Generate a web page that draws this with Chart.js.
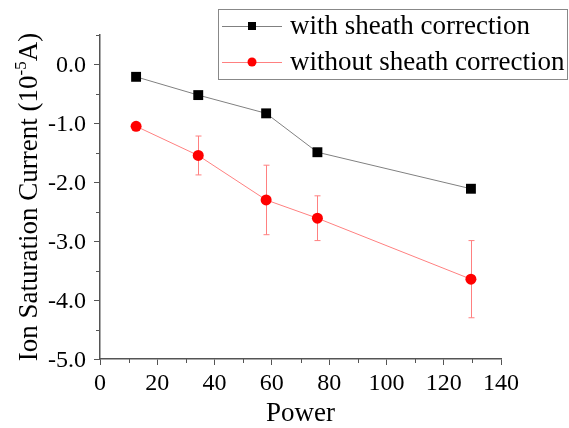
<!DOCTYPE html>
<html>
<head>
<meta charset="utf-8">
<script src="https://cdn.jsdelivr.net/npm/chart.js@4/dist/chart.umd.min.js"></script>
<style>
  body { margin: 0; background: #fff; }
  canvas { display: block; }
</style>
</head>
<body>
<canvas id="myChart" width="569" height="428"></canvas>
<script>
// values
var power = [12.6, 34.3, 58.0, 75.9, 129.5];
var withSheath = [-0.21, -0.52, -0.83, -1.49, -2.11];
var withoutSheath = [-1.05, -1.545, -2.30, -2.61, -3.645];
var withoutSheathErr = [0, 0.33, 0.59, 0.38, 0.655];

var seriesLabels = ['with sheath correction', 'without sheath correction'];
var xTitle = 'Power';
var yTitle = ['Ion Saturation Current (10', '-5', 'A)'];

var serif = '"Liberation Serif", "Times New Roman", serif';
var axisColor = '#555555';

Chart.defaults.font.family = serif;
Chart.defaults.color = '#000';

function points(xs, ys) {
    return xs.map(function (x, i) { return { x: x, y: ys[i] }; });
}

// error bars for the red series (drawn under the markers)
var errorBars = {
    id: 'errorBars',
    beforeDatasetsDraw: function (chart) {
        var ctx = chart.ctx;
        var xs = chart.scales.x, ys = chart.scales.y;
        ctx.save();
        ctx.strokeStyle = '#ff8080';
        ctx.lineWidth = 1;
        withoutSheath.forEach(function (v, i) {
            var e = withoutSheathErr[i];
            if (!e) return;
            var px = Math.round(xs.getPixelForValue(power[i])) + 0.5;
            var top = ys.getPixelForValue(v + e);
            var bot = ys.getPixelForValue(v - e);
            ctx.beginPath();
            ctx.moveTo(px, top); ctx.lineTo(px, bot);
            ctx.moveTo(px - 3, top); ctx.lineTo(px + 3, top);
            ctx.moveTo(px - 3, bot); ctx.lineTo(px + 3, bot);
            ctx.stroke();
        });
        ctx.restore();
    }
};

// minor ticks halfway between the major ones
var minorTicks = {
    id: 'minorTicks',
    afterDraw: function (chart) {
        var ctx = chart.ctx;
        var xs = chart.scales.x, ys = chart.scales.y;
        var area = chart.chartArea;
        ctx.save();
        ctx.strokeStyle = axisColor;
        ctx.lineWidth = 1;
        ctx.beginPath();
        for (var v = xs.min + 10; v < xs.max; v += 20) {
            var px = Math.round(xs.getPixelForValue(v)) + 0.5;
            ctx.moveTo(px, area.bottom); ctx.lineTo(px, area.bottom + 4);
        }
        for (var w = ys.min + 0.5; w <= ys.max + 0.001; w += 1) {
            var py = Math.round(ys.getPixelForValue(w)) + 0.5;
            ctx.moveTo(area.left, py); ctx.lineTo(area.left - 4, py);
        }
        ctx.stroke();
        ctx.restore();
    }
};

// tick labels drawn by hand so the serif face is used
var tickLabels = {
    id: 'tickLabels',
    afterDraw: function (chart) {
        var ctx = chart.ctx;
        var xs = chart.scales.x, ys = chart.scales.y;
        var area = chart.chartArea;
        ctx.save();
        ctx.fillStyle = '#000';
        ctx.font = '24px ' + serif;
        ctx.textBaseline = 'alphabetic';
        ctx.textAlign = 'center';
        xs.ticks.forEach(function (t) {
            ctx.fillText(String(t.value), xs.getPixelForValue(t.value), area.bottom + 31);
        });
        ctx.textAlign = 'right';
        ys.ticks.forEach(function (t) {
            ctx.fillText(t.value.toFixed(1), area.left - 14, ys.getPixelForValue(t.value) + 8);
        });
        ctx.restore();
    }
};

// rotated y title with a real superscript
var yAxisTitle = {
    id: 'yAxisTitle',
    afterDraw: function (chart) {
        var ctx = chart.ctx;
        var area = chart.chartArea;
        var big = '27px ' + serif, small = '17px ' + serif;
        ctx.save();
        ctx.fillStyle = '#000';
        ctx.textBaseline = 'alphabetic';
        ctx.textAlign = 'left';
        ctx.font = big;
        var w1 = ctx.measureText(yTitle[0]).width;
        var w3 = ctx.measureText(yTitle[2]).width;
        ctx.font = small;
        var w2 = ctx.measureText(yTitle[1]).width;
        var total = w1 + w2 + w3;
        ctx.translate(37, (area.top + area.bottom) / 2);
        ctx.rotate(-Math.PI / 2);
        var x0 = -total / 2;
        ctx.font = big;
        ctx.fillText(yTitle[0], x0, 0);
        ctx.font = small;
        ctx.fillText(yTitle[1], x0 + w1, -11);
        ctx.font = big;
        ctx.fillText(yTitle[2], x0 + w1 + w2, 0);
        ctx.restore();
    }
};

// x title
var xAxisTitle = {
    id: 'xAxisTitle',
    afterDraw: function (chart) {
        var ctx = chart.ctx;
        var area = chart.chartArea;
        ctx.save();
        ctx.fillStyle = '#000';
        ctx.font = '27px ' + serif;
        ctx.textAlign = 'center';
        ctx.textBaseline = 'alphabetic';
        ctx.fillText(xTitle, (area.left + area.right) / 2, area.bottom + 62);
        ctx.restore();
    }
};

// boxed legend with line + marker samples
var boxLegend = {
    id: 'boxLegend',
    afterDraw: function (chart) {
        var ctx = chart.ctx;
        ctx.save();
        ctx.strokeStyle = '#888888';
        ctx.lineWidth = 1;
        ctx.strokeRect(218.5, 9.5, 349, 70);
        var rows = [26, 62];
        chart.data.datasets.forEach(function (ds, i) {
            var y = rows[i];
            ctx.strokeStyle = ds.borderColor;
            ctx.lineWidth = 1;
            ctx.beginPath();
            ctx.moveTo(222, y + 0.5); ctx.lineTo(282, y + 0.5);
            ctx.stroke();
            ctx.fillStyle = ds.pointBackgroundColor;
            if (ds.pointStyle === 'rect') {
                ctx.fillRect(248, y - 4, 8, 8);
            } else {
                ctx.beginPath();
                ctx.arc(252, y, 4.5, 0, Math.PI * 2);
                ctx.fill();
            }
            ctx.fillStyle = '#000';
            ctx.font = '27px ' + serif;
            ctx.textBaseline = 'middle';
            ctx.fillText(ds.label, 290, y + 1);
        });
        ctx.restore();
    }
};

var ctx = document.getElementById('myChart').getContext('2d');
var myChart = new Chart(ctx, {
    type: 'line',
    data: {
        datasets: [{
            label: seriesLabels[0],
            data: points(power, withSheath),
            borderColor: '#808080',
            borderWidth: 1,
            pointStyle: 'rect',
            pointRadius: 7,
            pointBackgroundColor: '#000000',
            pointBorderColor: '#000000',
            pointBorderWidth: 0
        }, {
            label: seriesLabels[1],
            data: points(power, withoutSheath),
            borderColor: '#ff8080',
            borderWidth: 1,
            pointStyle: 'circle',
            pointRadius: 5.5,
            pointBackgroundColor: '#ff0000',
            pointBorderColor: '#ff0000',
            pointBorderWidth: 0
        }]
    },
    options: {
        responsive: false,
        animation: false,
        devicePixelRatio: 1,
        layout: { padding: { top: 35, right: 68, left: 0, bottom: 0 } },
        plugins: {
            legend: { display: false },
            tooltip: { enabled: false }
        },
        scales: {
            x: {
                type: 'linear',
                min: 0,
                max: 140,
                ticks: { stepSize: 20, display: false },
                grid: { drawOnChartArea: false, color: axisColor, tickLength: 6 },
                border: { color: axisColor, width: 1.5 },
                afterFit: function (s) { s.height = 69; }
            },
            y: {
                min: -5,
                max: 0.5,
                afterBuildTicks: function (s) {
                    s.ticks = s.ticks.filter(function (t) { return Number.isInteger(t.value); });
                },
                ticks: { stepSize: 1, display: false },
                grid: { drawOnChartArea: false, color: axisColor, tickLength: 6 },
                border: { color: axisColor, width: 1.5 },
                afterFit: function (s) { s.width = 100; }
            }
        }
    },
    plugins: [errorBars, minorTicks, tickLabels, yAxisTitle, xAxisTitle, boxLegend]
});
</script>
</body>
</html>
